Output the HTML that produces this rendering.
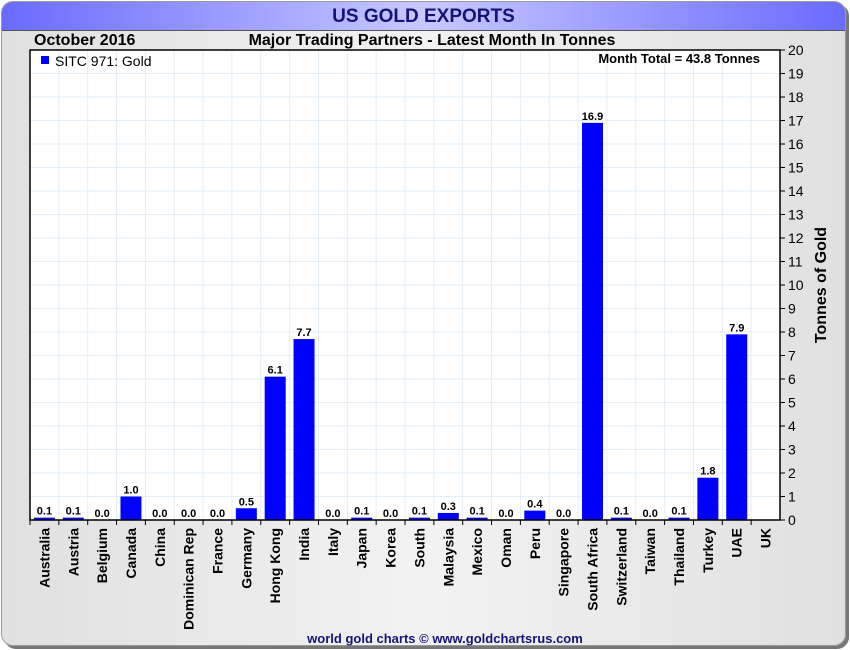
<!DOCTYPE html>
<html><head><meta charset="utf-8"><style>
body{margin:0;width:850px;height:650px;overflow:hidden;background:#fff;font-family:"Liberation Sans",sans-serif}
#frame{position:absolute;left:1px;top:1px;width:843px;height:643px;border:1px solid #999;border-radius:12px;background:linear-gradient(90deg,#e0e0e0,#f2f2f2 50%,#e0e0e0);box-shadow:3px 3px 0 #777;overflow:hidden}
#titlebar{position:absolute;left:0;top:0;width:843px;height:28px;background:linear-gradient(90deg,#6a6aff,#c8c8ff 50%,#6a6aff);border-bottom:1px solid #555;text-align:center;font-weight:bold;font-size:19px;color:#141478;line-height:30px}
</style></head><body>
<div id="frame">
<div id="titlebar">US GOLD EXPORTS</div>
</div>
<svg id="c" width="850" height="650" style="position:absolute;left:0;top:0"></svg>
<script>
const categories=["Australia","Austria","Belgium","Canada","China","Dominican Rep","France","Germany","Hong Kong","India","Italy","Japan","Korea","South","Malaysia","Mexico","Oman","Peru","Singapore","South Africa","Switzerland","Taiwan","Thailand","Turkey","UAE","UK"];
const values=[0.1,0.1,0.0,1.0,0.0,0.0,0.0,0.5,6.1,7.7,0.0,0.1,0.0,0.1,0.3,0.1,0.0,0.4,0.0,16.9,0.1,0.0,0.1,1.8,7.9,null];
const labels=["0.1","0.1","0.0","1.0","0.0","0.0","0.0","0.5","6.1","7.7","0.0","0.1","0.0","0.1","0.3","0.1","0.0","0.4","0.0","16.9","0.1","0.0","0.1","1.8","7.9",""];
const yTicks=[0,1,2,3,4,5,6,7,8,9,10,11,12,13,14,15,16,17,18,19,20];
const L=30,R=780,T=50,B=520,YMAX=20;
const svg=document.getElementById('c');const NS="http://www.w3.org/2000/svg";
const bw=(R-L)/categories.length;
const y=v=>B-(v/YMAX)*(B-T);
const x=i=>L+i*bw;
function mk(t,a,txt){const e=document.createElementNS(NS,t);for(const k in a)e.setAttribute(k,a[k]);if(txt!=null)e.textContent=txt;svg.appendChild(e);return e;}
let e=mk('rect',{x:L,y:T,width:R-L,height:B-T,fill:'#fff'});


yTicks.forEach(t=>{const g=mk('line',{x1:L,x2:R,y1:y(t),y2:y(t),stroke:'#e3eef6','stroke-width':1});


const tk=mk('line',{x1:R,x2:R+5,y1:y(t),y2:y(t),stroke:'#000'});


const lb=mk('text',{x:R+8,y:y(t)+5,'font-size':14,fill:'#000'},String(t));

});
categories.forEach((c,i)=>{
const g=mk('line',{x1:x(i),x2:x(i),y1:T,y2:B,stroke:'#e3eef6'});


const tk=mk('line',{x1:x(i),x2:x(i),y1:B,y2:B+5,stroke:'#000'});


const cx=x(i)+bw/2;
if(values[i]!=null){
const h=Math.max(B-y(values[i]),values[i]>0?2:0);
const b=mk('rect',{x:cx-10.5,y:B-h,width:21,height:h,fill:'#0000ff'});


const v=mk('text',{x:cx,y:B-h-3,'font-size':11,'font-weight':'bold','text-anchor':'middle'},labels[i]);

}
const t=mk('text',{x:0,y:0,'font-size':14,'font-weight':'bold','text-anchor':'end',transform:`translate(${cx+5},${B+8}) rotate(-90)`},c);


});
e=mk('rect',{x:L,y:T,width:R-L,height:B-T,fill:'none',stroke:'#000','stroke-width':1.5});


const tx=[[34,45,'October 2016','start',16,'date-label'],[432,45,'Major Trading Partners - Latest Month In Tonnes','middle',16,'chart-subtitle'],[760,63,'Month Total = 43.8 Tonnes','end',13,'month-total'],[445,643,'world gold charts © www.goldchartsrus.com','middle',13,'footer-credit']];
tx.forEach(a=>{const t=mk('text',{x:a[0],y:a[1],'font-size':a[4],'font-weight':'bold','text-anchor':a[3],fill:a[5]=='footer-credit'?'#141478':'#000'},a[2]);

});
e=mk('text',{x:0,y:0,'font-size':16,'font-weight':'bold','text-anchor':'middle',transform:'translate(826,285) rotate(-90)'},'Tonnes of Gold');


e=mk('rect',{x:41,y:56,width:8,height:8,fill:'#0000ff'});


e=mk('text',{x:55,y:66,'font-size':14},'SITC 971: Gold');


</script>
</body></html>
